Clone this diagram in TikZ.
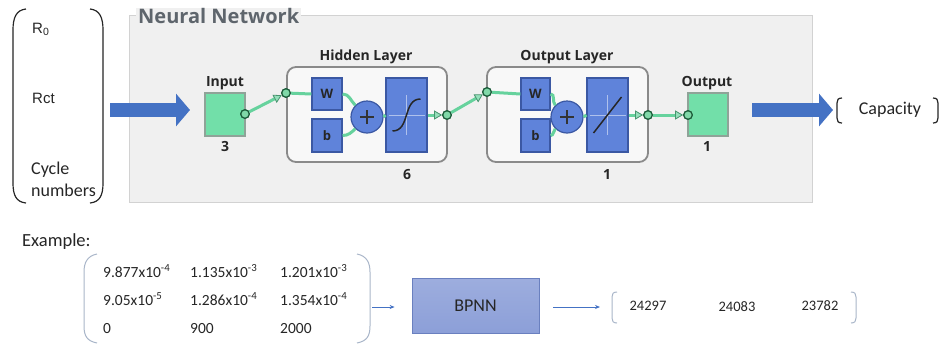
\documentclass[tikz,border=0pt]{standalone}
\usepackage{fontspec}
\setmainfont{Carlito}
\newfontfamily\arialf{Liberation Sans}
\newfontfamily\uif{Open Sans}
\usetikzlibrary{arrows.meta,calc}
\definecolor{panelf}{HTML}{F0F0F0}
\definecolor{panelb}{HTML}{D2D2D2}
\definecolor{titlec}{HTML}{5E656C}
\definecolor{layb}{HTML}{8A8A8A}
\definecolor{layf}{HTML}{F8F8F8}
\definecolor{mint}{HTML}{72DFA9}
\definecolor{sqb}{HTML}{8FA398}
\definecolor{bfill}{HTML}{5F83DA}
\definecolor{bborder}{HTML}{3B58A3}
\definecolor{dotf}{HTML}{80D8A8}
\definecolor{dotb}{HTML}{1E5E3C}
\definecolor{gline}{HTML}{66D29D}
\definecolor{bigblue}{HTML}{4472C4}
\definecolor{parc}{HTML}{A9B6C9}
\definecolor{bpnnf}{HTML}{8C9FD8}
\definecolor{bpnnb}{HTML}{6A80BF}
\definecolor{txt}{HTML}{262626}
\begin{document}
\begin{tikzpicture}[x=1pt,y=-1pt,
  lbl/.style={font=\uif\bfseries\fontsize{14}{16}\selectfont, text=black!85},
  sq/.style={draw=sqb, line width=1.2pt, fill=mint, minimum width=40pt, minimum height=43pt, inner sep=0},
  bbox/.style={draw=bborder, line width=1.2pt, fill=bfill, inner sep=0, font=\uif\bfseries\fontsize{13}{15}\selectfont, text=black!85},
  dot/.style={circle, draw=dotb, line width=1.2pt, fill=dotf, minimum size=8.5pt, inner sep=0},
  conn/.style={draw=gline, line width=3pt},
  garrow/.style={conn, -{Triangle[length=8pt,width=9pt,line width=0.8pt,fill=gline!70,color=gline!70!black]}},
  lay/.style={draw=layb, line width=1.8pt, fill=layf, rounded corners=9pt, inner sep=0},
  bigarrow/.style={draw=bigblue, line width=14pt, -{Triangle[length=14pt,width=32pt]}},
  smallarrow/.style={draw=bigblue, line width=0.8pt, -{Stealth[length=5pt,width=4pt]}},
  cal/.style={font=\fontsize{18}{20}\selectfont, text=txt, inner sep=0},
  mtx/.style={font=\fontsize{15.5}{17}\selectfont, text=txt, inner sep=0, anchor=base west},
]
\useasboundingbox (0,0) rectangle (951,346);
\fill[white] (0,0) rectangle (951,346);

% ---------- left input list ----------
\draw[line width=1.2pt, black!85] (26,9) .. controls (16,10) and (13,18) .. (13,30) -- (13,183) .. controls (13,195) and (16,202) .. (26,203);
\draw[line width=1.2pt, black!85] (90,9) .. controls (100,10) and (103,18) .. (103,30) -- (103,183) .. controls (103,195) and (100,202) .. (90,203);
\node[font=\arialf\fontsize{15}{17}\selectfont, text=txt, anchor=base west, inner sep=0] (r0) at (32,33) {R\textsubscript{0}};
\node[font=\arialf\fontsize{15}{17}\selectfont, text=txt, anchor=base west, inner sep=0] (rct) at (32,103) {Rct};
\node[cal, anchor=base west] (cyc) at (31,174) {Cycle};
\node[cal, anchor=base west] (num) at (31,196) {numbers};

% ---------- panel ----------
\node[draw=panelb, fill=panelf, line width=1pt, minimum width=683pt, minimum height=187pt, inner sep=0] (panel) at (470.5,108.5) {};
\node[anchor=base west, fill=panelf, inner xsep=2pt, inner ysep=0, font=\uif\bfseries\fontsize{20}{22}\selectfont, text=titlec] (title) at (136,23) {Neural Network};

% layer boxes
\node[lay, minimum width=160pt, minimum height=95pt] (hid) at (367,114.5) {};
\node[lay, minimum width=161pt, minimum height=95pt] (olay) at (567.5,114.5) {};
\node[lbl, anchor=base] (hidl) at (366,60) {Hidden Layer};
\node[lbl, anchor=base] (olayl) at (567,60) {Output Layer};
\node[lbl, anchor=base] (hidn) at (407,179) {6};
\node[lbl, anchor=base] (olayn) at (607,179) {1};

% input / output squares
\node[sq] (inp) at (225,114.5) {};
\node[lbl, anchor=base] (inpl) at (225,86) {Input};
\node[lbl, anchor=base] (inpn) at (225,151) {3};
\node[sq] (outp) at (708,114.5) {};
\node[lbl, anchor=base] (outpl) at (707,86) {Output};
\node[lbl, anchor=base] (outpn) at (707,151) {1};

% hidden layer internals
\node[bbox, minimum width=30pt, minimum height=32pt] (hw) at (327,94) {W};
\node[bbox, minimum width=30pt, minimum height=33pt] (hb) at (327,135.5) {b};
\node[bbox, circle, minimum size=32pt] (hp) at (367,117) {};
\node[bbox, minimum width=41pt, minimum height=74pt] (htf) at (406.5,115) {};
% output layer internals
\node[bbox, minimum width=29pt, minimum height=32pt] (ow) at (535.5,94) {W};
\node[bbox, minimum width=29pt, minimum height=33pt] (ob) at (535.5,135.5) {b};
\node[bbox, circle, minimum size=32pt] (op) at (567,117) {};
\node[bbox, minimum width=41pt, minimum height=74pt] (otf) at (607.5,115) {};

% plus signs
\foreach \p in {hp,op}{
  \draw[line width=1.8pt, draw=black!80] ($(\p.center)+(-7,0)$) -- ($(\p.center)+(7,0)$);
  \draw[line width=1.8pt, draw=black!80] ($(\p.center)+(0,-7)$) -- ($(\p.center)+(0,7)$);
}
% transfer function glyphs
\draw[white, opacity=0.5, line width=0.6pt] ($(htf.center)+(-18,0)$) -- ($(htf.center)+(18,0)$);
\draw[white, opacity=0.5, line width=0.6pt] ($(htf.center)+(0,-20)$) -- ($(htf.center)+(0,20)$);
\draw[line width=1.5pt, black!85] ($(htf.center)+(-14,16)$) .. controls ($(htf.center)+(4,16)$) and ($(htf.center)+(-4,-16)$) .. ($(htf.center)+(14,-16)$);
\draw[white, opacity=0.5, line width=0.6pt] ($(otf.center)+(-18,0)$) -- ($(otf.center)+(18,0)$);
\draw[white, opacity=0.5, line width=0.6pt] ($(otf.center)+(0,-20)$) -- ($(otf.center)+(0,20)$);
\draw[line width=1.5pt, black!85] ($(otf.center)+(-14,18)$) -- ($(otf.center)+(14,-18)$);

% dots
\node[dot] (ind) at (245,114) {};
\node[dot] (hin) at (286,93) {};
\node[dot] (hout) at (447,115) {};
\node[dot] (oin) at (487,92) {};
\node[dot] (oout) at (648,115) {};
\node[dot] (outd) at (688,115) {};

% green connectors
\draw[garrow] (ind) -- (hin);
\draw[conn] (hin) -- (hw.west);
\draw[conn] (hw.east) to[out=0, in=135] (hp.135);
\draw[conn] (hb.east) to[out=0, in=225] (hp.225);
\draw[conn] (hp.east) -- (htf.west);
\draw[garrow] (htf.east) -- (hout);
\draw[garrow] (hout) -- (oin);
\draw[conn] (oin) -- (ow.west);
\draw[conn] (ow.east) to[out=0, in=135] (op.135);
\draw[conn] (ob.east) to[out=0, in=225] (op.225);
\draw[conn] (op.east) -- (otf.west);
\draw[garrow] (otf.east) -- (oout);
\draw[garrow] (oout) -- (outd);
% redraw dots on top
\foreach \d in {ind,hin,hout,oin,oout,outd}{
  \node[dot] at (\d) {};
}

% big arrows
\coordinate (a1s) at (110,110);
\coordinate (a1e) at (190,110);
\draw[bigarrow] (a1s) -- (a1e);
\coordinate (a2s) at (752,110);
\coordinate (a2e) at (833,110);
\draw[bigarrow] (a2s) -- (a2e);

% capacity
\draw[line width=1.2pt, black!85] (842,98) .. controls (838,98) and (837,100) .. (837,103) -- (837,118) .. controls (837,121) and (838,123) .. (842,123);
\draw[line width=1.2pt, black!85] (933,98) .. controls (937,98) and (938,100) .. (938,103) -- (938,118) .. controls (938,121) and (937,123) .. (933,123);
\node[cal] (cap) at (890,110) {Capacity};

% ---------- example ----------
\node[cal, anchor=base west, font=\fontsize{18.5}{20}\selectfont] (ex) at (22,246) {Example:};
\draw[line width=1pt, parc] (97,254) .. controls (87,256) and (84,263) .. (84,272) -- (84,326) .. controls (84,336) and (87,341) .. (97,343);
\draw[line width=1pt, parc] (357,254) .. controls (367,256) and (370,263) .. (370,272) -- (370,326) .. controls (370,336) and (367,341) .. (357,343);
\node[mtx] (m11) at (103,277) {9.877x10\textsuperscript{-4}};
\node[mtx] (m12) at (190,277) {1.135x10\textsuperscript{-3}};
\node[mtx] (m13) at (280,277) {1.201x10\textsuperscript{-3}};
\node[mtx] (m21) at (103,305) {9.05x10\textsuperscript{-5}};
\node[mtx] (m22) at (190,305) {1.286x10\textsuperscript{-4}};
\node[mtx] (m23) at (280,305) {1.354x10\textsuperscript{-4}};
\node[mtx] (m31) at (103,333) {0};
\node[mtx] (m32) at (190,333) {900};
\node[mtx] (m33) at (280,333) {2000};

\node[draw=bpnnb, line width=0.8pt, top color=bpnnf!85!white, bottom color=bpnnf, minimum width=127pt, minimum height=55pt, inner sep=0, font=\fontsize{18}{20}\selectfont, text=txt] (bpnn) at (475.5,305.5) {BPNN};
\coordinate (matR) at (372,307);
\draw[smallarrow, shorten >=17pt] (matR) -- (matR -| bpnn.west);
\coordinate (resL) at (600,307);
\draw[smallarrow, shorten <=14pt] (bpnn.east |- resL) -- (resL);

\draw[line width=1pt, parc] (617,292) .. controls (613,292) and (612,294) .. (612,297) -- (612,318) .. controls (612,321) and (613,323) .. (617,323);
\draw[line width=1pt, parc] (851,292) .. controls (855,292) and (856,294) .. (856,297) -- (856,318) .. controls (856,321) and (855,323) .. (851,323);
\node[font=\fontsize{14.5}{16}\selectfont, text=txt, inner sep=0] (r1) at (648,306) {24297};
\node[font=\fontsize{14.5}{16}\selectfont, text=txt, inner sep=0] (r2) at (737,307) {24083};
\node[font=\fontsize{14.5}{16}\selectfont, text=txt, inner sep=0] (r3) at (820,306) {23782};
\end{tikzpicture}
\end{document}
